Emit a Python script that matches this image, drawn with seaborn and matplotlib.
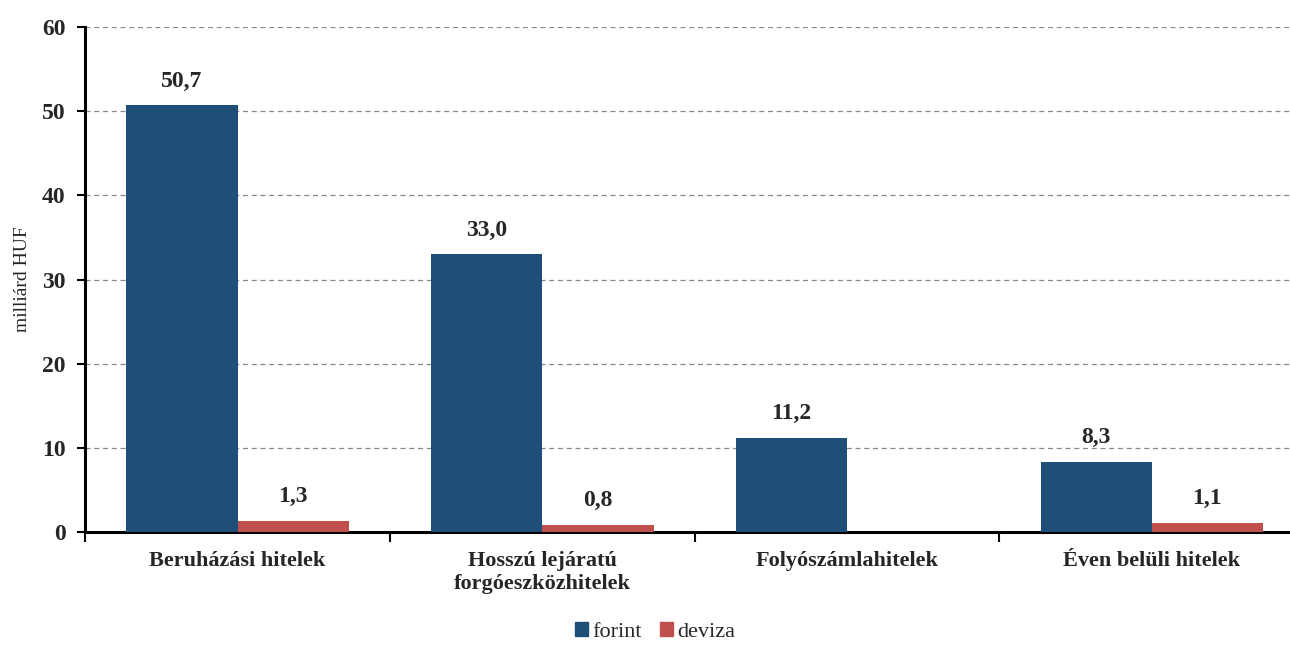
import numpy as np
import pandas as pd
import matplotlib
matplotlib.use('Agg')
import matplotlib.pyplot as plt
import seaborn as sns

categories = ['Beruházási hitelek', 'Hosszú lejáratú\nforgóeszközhitelek',
              'Folyószámlahitelek', 'Éven belüli hitelek']
forint = [50.7, 33.0, 11.2, 8.3]
deviza = [1.3, 0.8, np.nan, 1.1]
series = ['forint', 'deviza']
colors = ['#1F4E79', '#C0504D']

df = pd.DataFrame({
    'kat': categories * 2,
    'ertek': forint + deviza,
    'sor': ['forint'] * 4 + ['deviza'] * 4,
})

sns.set_theme(style='white')
plt.rcParams['font.family'] = ['Liberation Serif', 'DejaVu Serif']

fig, ax = plt.subplots(figsize=(12.9, 6.48), dpi=100)
# the plot area runs a bit past the right edge, like in the original
plt.subplots_adjust(left=0.066, right=1.011, top=0.958, bottom=0.179)

sns.barplot(data=df, x='kat', y='ertek', hue='sor', hue_order=series,
            palette=colors, width=0.73, saturation=1, linewidth=0,
            ax=ax, zorder=3)

# value labels with decimal comma
for cont in ax.containers:
    labels = []
    for v in cont.datavalues:
        labels.append('' if np.isnan(v) else f'{v:.1f}'.replace('.', ','))
    ax.bar_label(cont, labels=labels, padding=10, fontsize=17,
                 fontweight='bold')

ax.set_ylim(0, 60)
ax.set_yticks(range(0, 61, 10))
ax.set_xlim(-0.5, 3.5)
ax.yaxis.grid(True, linestyle=(0, (4, 3)), color='#888888', linewidth=0.9,
              zorder=0)
ax.set_axisbelow(True)

for s in ['top', 'right']:
    ax.spines[s].set_visible(False)
for s in ['left', 'bottom']:
    ax.spines[s].set_color('black')
    ax.spines[s].set_linewidth(2.2)

ax.set_xticks(range(4))
ax.set_xticklabels(categories, fontsize=16, fontweight='bold')
ax.set_xticks([-0.5, 0.5, 1.5, 2.5], minor=True)
ax.tick_params(axis='x', which='major', length=0, pad=14)
ax.tick_params(axis='x', which='minor', length=7, width=1.5,
               direction='out', color='black', bottom=True)
ax.tick_params(axis='y', length=6, width=1.5, direction='out',
               color='black', left=True, labelsize=17, pad=8)
for t in ax.get_yticklabels():
    t.set_fontweight('bold')

ax.set_xlabel('')
ax.set_ylabel('milliárd HUF', fontsize=14, labelpad=8)

ax.legend_.remove()
handles = [plt.Rectangle((0, 0), 1, 1, color=c) for c in colors]
fig.legend(handles, series, loc='lower center', bbox_to_anchor=(0.508, -0.022),
           ncol=2, frameon=False, fontsize=16, handlelength=0.6,
           handleheight=0.6, handletextpad=0.2, columnspacing=0.8)

plt.savefig('out.png', dpi=100)
